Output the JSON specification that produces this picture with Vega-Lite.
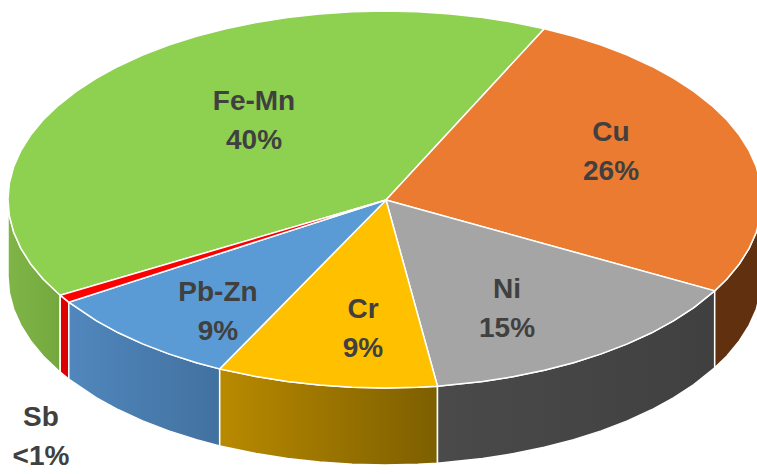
{"$schema":"https://vega.github.io/schema/vega-lite/v6.json","width":757,"height":474,"padding":0,"autosize":"none","background":"white","config":{"view":{"stroke":null}},
"datasets":{"outline":[
{"s":"Cu","t":294,"x":386,"y":200},
{"s":"Cu","t":295,"x":544.3,"y":28.7},{"s":"Cu","t":300,"x":573.5,"y":36.3},{"s":"Cu","t":305,"x":601.2,"y":45.1},{"s":"Cu","t":310,"x":627.3,"y":55.1},{"s":"Cu","t":315,"x":651.6,"y":66.2},{"s":"Cu","t":320,"x":673.8,"y":78.3},{"s":"Cu","t":325,"x":693.8,"y":91.4},{"s":"Cu","t":330,"x":711.5,"y":105.3},{"s":"Cu","t":335,"x":726.7,"y":119.8},{"s":"Cu","t":340,"x":739.3,"y":135},{"s":"Cu","t":345,"x":749.1,"y":150.7},{"s":"Cu","t":350,"x":756.3,"y":166.8},{"s":"Cu","t":355,"x":760.6,"y":183.1},
{"s":"Cu","t":360,"x":762,"y":199.5,"base":276.5},{"s":"Cu","t":365,"x":760.6,"y":215.9,"base":292.9},{"s":"Cu","t":370,"x":756.3,"y":232.2,"base":309.2},{"s":"Cu","t":375,"x":749.1,"y":248.3,"base":325.3},{"s":"Cu","t":380,"x":739.3,"y":264,"base":341},{"s":"Cu","t":385,"x":726.7,"y":279.2,"base":356.2},{"s":"Cu","t":389,"x":714.7,"y":290.9,"base":367.9},
{"s":"Cu","t":390,"x":386,"y":200},
{"s":"Ni","t":28,"x":386,"y":200},
{"s":"Ni","t":29,"x":714.7,"y":290.9,"base":367.9},{"s":"Ni","t":35,"x":693.8,"y":307.6,"base":384.6},{"s":"Ni","t":40,"x":673.8,"y":320.7,"base":397.7},{"s":"Ni","t":45,"x":651.6,"y":332.8,"base":409.8},{"s":"Ni","t":50,"x":627.3,"y":343.9,"base":420.9},{"s":"Ni","t":55,"x":601.2,"y":353.9,"base":430.9},{"s":"Ni","t":60,"x":573.5,"y":362.7,"base":439.7},{"s":"Ni","t":65,"x":544.3,"y":370.3,"base":447.3},{"s":"Ni","t":70,"x":513.9,"y":376.6,"base":453.6},{"s":"Ni","t":75,"x":482.6,"y":381.6,"base":458.6},{"s":"Ni","t":82,"x":437.5,"y":386.2,"base":463.2},
{"s":"Ni","t":83,"x":386,"y":200},
{"s":"Cr","t":81,"x":386,"y":200},
{"s":"Cr","t":82,"x":437.5,"y":386.2,"base":463.2},{"s":"Cr","t":85,"x":417.9,"y":387.3,"base":464.3},{"s":"Cr","t":90,"x":385,"y":388,"base":465},{"s":"Cr","t":95,"x":352.1,"y":387.3,"base":464.3},{"s":"Cr","t":100,"x":319.5,"y":385.1,"base":462.1},{"s":"Cr","t":105,"x":287.4,"y":381.6,"base":458.6},{"s":"Cr","t":110,"x":256.1,"y":376.6,"base":453.6},{"s":"Cr","t":116,"x":219.7,"y":368.9,"base":445.9},
{"s":"Cr","t":117,"x":386,"y":200},
{"s":"Pb-Zn","t":115,"x":386,"y":200},
{"s":"Pb-Zn","t":116,"x":219.7,"y":368.9,"base":445.9},{"s":"Pb-Zn","t":120,"x":196.5,"y":362.7,"base":439.7},{"s":"Pb-Zn","t":125,"x":168.8,"y":353.9,"base":430.9},{"s":"Pb-Zn","t":130,"x":142.7,"y":343.9,"base":420.9},{"s":"Pb-Zn","t":135,"x":118.4,"y":332.8,"base":409.8},{"s":"Pb-Zn","t":140,"x":96.2,"y":320.7,"base":397.7},{"s":"Pb-Zn","t":147,"x":68.8,"y":302.2,"base":379.2},
{"s":"Pb-Zn","t":148,"x":386,"y":200},
{"s":"Sb","t":146,"x":386,"y":200},
{"s":"Sb","t":147,"x":68.8,"y":302.2,"base":379.2},{"s":"Sb","t":149.5,"x":60.2,"y":295.2,"base":372.2},
{"s":"Sb","t":150,"x":386,"y":200},
{"s":"Fe-Mn","t":149,"x":386,"y":200},
{"s":"Fe-Mn","t":149.5,"x":60.2,"y":295.2,"base":372.2},{"s":"Fe-Mn","t":155,"x":43.3,"y":279.2,"base":356.2},{"s":"Fe-Mn","t":160,"x":30.7,"y":264,"base":341},{"s":"Fe-Mn","t":165,"x":20.9,"y":248.3,"base":325.3},{"s":"Fe-Mn","t":170,"x":13.7,"y":232.2,"base":309.2},{"s":"Fe-Mn","t":175,"x":9.4,"y":215.9,"base":292.9},{"s":"Fe-Mn","t":180,"x":8,"y":199.5,"base":276.5},
{"s":"Fe-Mn","t":185,"x":9.4,"y":183.1},{"s":"Fe-Mn","t":190,"x":13.7,"y":166.8},{"s":"Fe-Mn","t":195,"x":20.9,"y":150.7},{"s":"Fe-Mn","t":200,"x":30.7,"y":135},{"s":"Fe-Mn","t":205,"x":43.3,"y":119.8},{"s":"Fe-Mn","t":210,"x":58.5,"y":105.3},{"s":"Fe-Mn","t":215,"x":76.2,"y":91.4},{"s":"Fe-Mn","t":220,"x":96.2,"y":78.3},{"s":"Fe-Mn","t":225,"x":118.4,"y":66.2},{"s":"Fe-Mn","t":230,"x":142.7,"y":55.1},{"s":"Fe-Mn","t":235,"x":168.8,"y":45.1},{"s":"Fe-Mn","t":240,"x":196.5,"y":36.3},{"s":"Fe-Mn","t":245,"x":225.7,"y":28.7},{"s":"Fe-Mn","t":250,"x":256.1,"y":22.4},{"s":"Fe-Mn","t":255,"x":287.4,"y":17.4},{"s":"Fe-Mn","t":260,"x":319.5,"y":13.9},{"s":"Fe-Mn","t":265,"x":352.1,"y":11.7},{"s":"Fe-Mn","t":270,"x":385,"y":11},{"s":"Fe-Mn","t":275,"x":417.9,"y":11.7},{"s":"Fe-Mn","t":280,"x":450.5,"y":13.9},{"s":"Fe-Mn","t":285,"x":482.6,"y":17.4},{"s":"Fe-Mn","t":290,"x":513.9,"y":22.4},{"s":"Fe-Mn","t":295,"x":544.3,"y":28.7},
{"s":"Fe-Mn","t":296,"x":386,"y":200}
],
"labels":[
{"label":"Fe-Mn\n40%","x":254,"y":102},
{"label":"Cu\n26%","x":611,"y":133},
{"label":"Ni\n15%","x":507,"y":290},
{"label":"Cr\n9%","x":363,"y":310},
{"label":"Pb-Zn\n9%","x":218,"y":293},
{"label":"Sb\n<1%","x":41,"y":418}
]},
"data":{"name":"outline"},
"encoding":{"x":{"field":"x","type":"quantitative","scale":{"domain":[0,757]},"axis":null},"y":{"field":"y","type":"quantitative","scale":{"domain":[474,0]},"axis":null}},
"layer":[
{"transform":[{"filter":"datum.s==='Fe-Mn' && datum.base>0"}],"mark":{"type":"area","stroke":"white","strokeWidth":1.5,"fill":{"gradient":"linear","x1":0,"y1":0,"x2":1,"y2":0,"stops":[{"offset":0,"color":"#7fb547"},{"offset":1,"color":"#74a83f"}]}},"encoding":{"y2":{"field":"base"}}},
{"transform":[{"filter":"datum.s==='Sb' && datum.base>0"}],"mark":{"type":"area","stroke":"white","strokeWidth":1.5,"fill":"#dc0000"},"encoding":{"y2":{"field":"base"}}},
{"transform":[{"filter":"datum.s==='Pb-Zn' && datum.base>0"}],"mark":{"type":"area","stroke":"white","strokeWidth":1.5,"fill":{"gradient":"linear","x1":0,"y1":0,"x2":1,"y2":0,"stops":[{"offset":0,"color":"#5187bd"},{"offset":1,"color":"#41719f"}]}},"encoding":{"y2":{"field":"base"}}},
{"transform":[{"filter":"datum.s==='Cr' && datum.base>0"}],"mark":{"type":"area","stroke":"white","strokeWidth":1.5,"fill":{"gradient":"linear","x1":0,"y1":0,"x2":1,"y2":0,"stops":[{"offset":0,"color":"#b98a00"},{"offset":1,"color":"#7d5f00"}]}},"encoding":{"y2":{"field":"base"}}},
{"transform":[{"filter":"datum.s==='Ni' && datum.base>0"}],"mark":{"type":"area","stroke":"white","strokeWidth":1.5,"fill":{"gradient":"linear","x1":0,"y1":0,"x2":1,"y2":0,"stops":[{"offset":0,"color":"#4a4a4a"},{"offset":1,"color":"#404040"}]}},"encoding":{"y2":{"field":"base"}}},
{"transform":[{"filter":"datum.s==='Cu' && datum.base>0"}],"mark":{"type":"area","stroke":"white","strokeWidth":1.5,"fill":"#61300f"},"encoding":{"y2":{"field":"base"}}},
{"transform":[{"filter":"datum.s==='Fe-Mn'"}],"mark":{"type":"line","stroke":"white","strokeWidth":1.5,"fill":"#8ed04f"},"encoding":{"order":{"field":"t","type":"quantitative"}}},
{"transform":[{"filter":"datum.s==='Cu'"}],"mark":{"type":"line","stroke":"white","strokeWidth":1.5,"fill":"#ea7b30"},"encoding":{"order":{"field":"t","type":"quantitative"}}},
{"transform":[{"filter":"datum.s==='Ni'"}],"mark":{"type":"line","stroke":"white","strokeWidth":1.5,"fill":"#a5a5a5"},"encoding":{"order":{"field":"t","type":"quantitative"}}},
{"transform":[{"filter":"datum.s==='Cr'"}],"mark":{"type":"line","stroke":"white","strokeWidth":1.5,"fill":"#ffc000"},"encoding":{"order":{"field":"t","type":"quantitative"}}},
{"transform":[{"filter":"datum.s==='Pb-Zn'"}],"mark":{"type":"line","stroke":"white","strokeWidth":1.5,"fill":"#5b9bd5"},"encoding":{"order":{"field":"t","type":"quantitative"}}},
{"transform":[{"filter":"datum.s==='Sb'"}],"mark":{"type":"line","stroke":"white","strokeWidth":1.5,"fill":"#ff0000"},"encoding":{"order":{"field":"t","type":"quantitative"}}},
{"data":{"name":"labels"},"mark":{"type":"text","font":"Liberation Sans","fontWeight":"bold","fontSize":28,"color":"#404040","lineBreak":"\n","lineHeight":39,"align":"center","baseline":"middle"},"encoding":{"text":{"field":"label"}}}
]}
